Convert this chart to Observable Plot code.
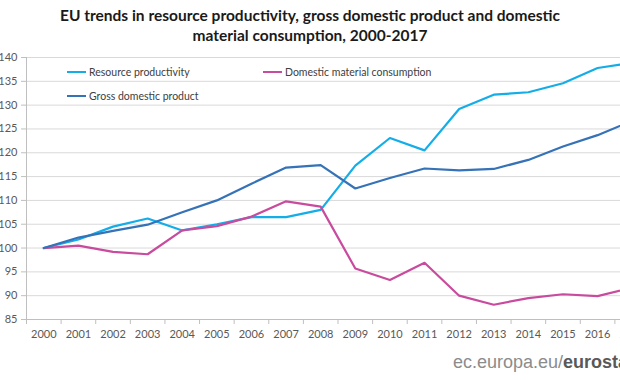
<!DOCTYPE html>
<html><head><meta charset="utf-8">
<script src="https://cdn.jsdelivr.net/npm/d3@7"></script>
<script src="https://cdn.jsdelivr.net/npm/@observablehq/plot@0.6"></script>
<style>
html,body{margin:0;padding:0;background:#fff;overflow:hidden;}
#wrap{position:relative;width:620px;height:380px;overflow:hidden;}
#title{position:absolute;left:0;top:5px;width:620px;text-align:center;font:bold 15.5px Lato;line-height:20px;color:#1a1a1a;}
#chart{position:absolute;left:0;top:48px;width:655px;}
#chart svg{max-width:none !important;}
.leg{position:absolute;font:10.5px Lato;line-height:14px;color:#404040;display:flex;align-items:center;white-space:nowrap;}
.sw{display:inline-block;width:19px;height:2.5px;margin-right:3px;}
#foot{position:absolute;left:453px;top:352px;font:18px "Liberation Sans";line-height:20px;white-space:nowrap;color:#8c8c8c;}
#foot b{color:#595959;}
</style></head><body>
<div id="wrap">
<div id="title">EU trends in resource productivity, gross domestic product and domestic<br>material consumption, 2000-2017</div>
<div id="chart"></div>
<div id="legend"></div>
<div id="foot">ec.europa.eu/<b>eurostat</b></div>
</div>
<script>
const years = [2000,2001,2002,2003,2004,2005,2006,2007,2008,2009,2010,2011,2012,2013,2014,2015,2016,2017];
const resourceProductivity = [100,101.8,104.5,106.2,103.7,105.0,106.5,106.5,108.0,117.3,123.1,120.5,129.2,132.2,132.7,134.6,137.8,138.9];
const grossDomesticProduct = [100,102.2,103.6,104.9,107.5,110.0,113.5,116.9,117.4,112.5,114.7,116.7,116.3,116.6,118.5,121.3,123.7,126.7];
const domesticMaterialConsumption = [100,100.5,99.2,98.7,103.7,104.6,106.6,109.8,108.7,95.7,93.3,96.9,90.0,88.1,89.5,90.3,89.9,91.7];
const seriesNames = ["Resource productivity","Domestic material consumption","Gross domestic product"];
const yTicks = [85,90,95,100,105,110,115,120,125,130,135,140];

const colors = {"Resource productivity":"#14ade8","Domestic material consumption":"#c94b9d","Gross domestic product":"#3572b7"};
const seriesValues = {"Resource productivity":resourceProductivity,"Domestic material consumption":domesticMaterialConsumption,"Gross domestic product":grossDomesticProduct};
const data = seriesNames.flatMap(s => years.map((yr,i) => ({series:s, year:yr, value:seriesValues[s][i]})));
const boundaries = years.map(y => y - 0.5).concat([years[years.length-1]+0.5]);

const chart = Plot.plot({
  width: 655, height: 300,
  marginLeft: 26, marginRight: 6, marginTop: 9, marginBottom: 29,
  style: {fontFamily: "Lato", fontSize: "11px", color: "#595959", background: "transparent", maxWidth: "none"},
  x: {type: "linear", domain: [1999.5, 2017.5]},
  y: {domain: [85, 140]},
  marks: [
    Plot.gridY(yTicks, {stroke: "#d9d9d9", strokeOpacity: 1}),
    Plot.axisY(yTicks, {tickSize: 5, tickPadding: 4, stroke: "#bfbfbf", label: null, fill: "#595959"}),
    Plot.axisX(years, {tickSize: 0, tickPadding: 11, tickFormat: d => String(d), label: null, fill: "#595959"}),
    Plot.axisX(boundaries, {tickSize: 5, tickFormat: () => "", stroke: "#bfbfbf", label: null}),
    Plot.ruleX([1999.5], {stroke: "#bfbfbf"}),
    Plot.ruleY([85], {stroke: "#bfbfbf"}),
    Plot.line(data, {x: "year", y: "value", z: "series", stroke: d => colors[d.series], strokeWidth: 2.2})
  ]
});
chart.style.maxWidth = "none";
document.getElementById("chart").appendChild(chart);

const legendPos = [
  {name: "Resource productivity", left: 67, top: 65},
  {name: "Domestic material consumption", left: 263, top: 65},
  {name: "Gross domestic product", left: 67, top: 89}
];
const leg = document.getElementById("legend");
legendPos.forEach(p => {
  const d = document.createElement("div");
  d.className = "leg";
  d.style.left = p.left + "px"; d.style.top = p.top + "px";
  d.innerHTML = `<span class="sw" style="background:${colors[p.name]}"></span>${p.name}`;
  leg.appendChild(d);
});
</script>
</body></html>
